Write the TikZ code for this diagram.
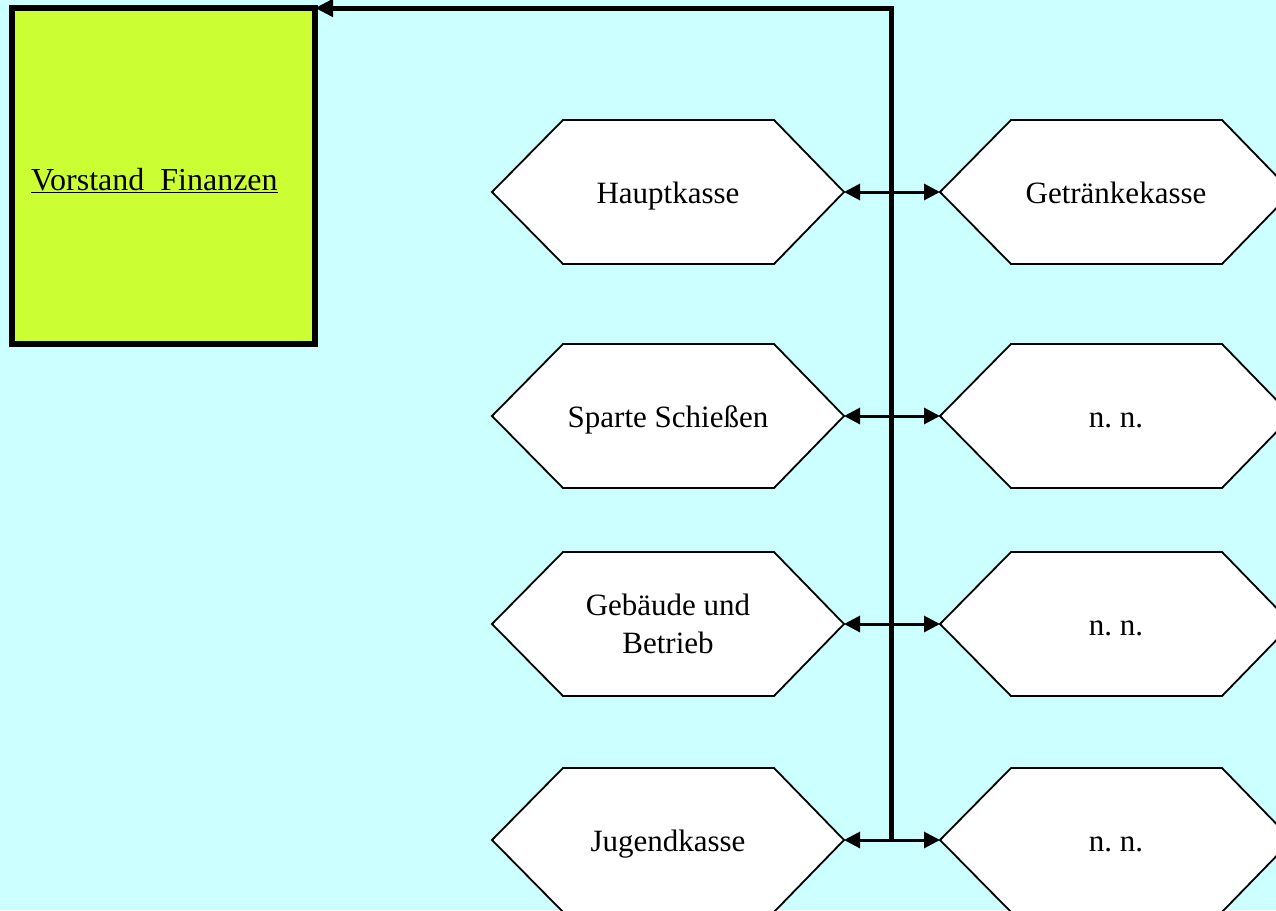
\documentclass[tikz,border=0pt]{standalone}
\usepackage{fontspec}
\setmainfont{Liberation Serif}
\frenchspacing
\usetikzlibrary{arrows.meta}
\definecolor{bgcyan}{HTML}{CCFFFF}
\definecolor{boxlime}{HTML}{CCFF33}
\tikzset{
  hexshape/.style={draw=black, fill=white, line width=1.8pt, line join=miter},
  hexlabel/.style={font=\fontsize{31}{38}\selectfont, align=center, inner sep=0pt},
  link/.style={line width=3pt, {Triangle[length=16pt,width=16pt]}-{Triangle[length=16pt,width=16pt]}},
  trunk/.style={line width=5pt, line join=miter, -{Triangle[length=18pt,width=17pt]}},
  bossbox/.style={draw=black, fill=boxlime, line width=5.5pt, minimum width=303pt, minimum height=336pt, inner sep=0pt, outer sep=0pt},
}
\newcommand{\hexoutline}[3]{%
  \draw[hexshape] (#2-176,#3) -- (#2-105,#3-72) -- (#2+106,#3-72) -- (#2+176,#3) -- (#2+106,#3+72) -- (#2-105,#3+72) -- cycle;
  \coordinate (#1-w) at (#2-176,#3);
  \coordinate (#1-e) at (#2+176,#3);
}
\newcommand{\hexnode}[4]{%
  \hexoutline{#1}{#2}{#3}%
  \node[hexlabel] (#1) at (#2,#3) {#4};
}
\newcommand{\hexnodeone}[4]{%
  \hexoutline{#1}{#2}{#3}%
  \node[hexlabel, anchor=base] (#1) at (#2,#3+11) {#4};
}
\begin{document}
\begin{tikzpicture}[x=1pt, y=-1pt]
\useasboundingbox (0,0) rectangle (1276,910);
\clip (0,0) rectangle (1276,910);
\fill[bgcyan] (0,0) rectangle (1276,910);

\node[bossbox] (vf) at (163.5,176) {};
\node[font=\fontsize{32}{36}\selectfont, anchor=base west, inner sep=0pt] (vftext) at (31,190) {\underline{Vorstand~~Finanzen}};

\hexnodeone{hk}{668}{192}{Hauptkasse}
\hexnodeone{gk}{1116}{192}{Getränkekasse}
\hexnodeone{ss}{668}{416}{Sparte Schießen}
\hexnodeone{nn1}{1116}{416}{n. n.}
\hexnode{gb}{668}{624}{Gebäude und\\Betrieb}
\hexnodeone{nn2}{1116}{624}{n. n.}
\hexnodeone{jk}{668}{840}{Jugendkasse}
\hexnodeone{nn3}{1116}{840}{n. n.}

\coordinate (tb) at (891,840);
\draw[trunk] (tb) |- (vf.north east);

\draw[link] (hk-e) -- (gk-w);
\draw[link] (ss-e) -- (nn1-w);
\draw[link] (gb-e) -- (nn2-w);
\draw[link] (jk-e) -- (nn3-w);
\end{tikzpicture}
\end{document}
